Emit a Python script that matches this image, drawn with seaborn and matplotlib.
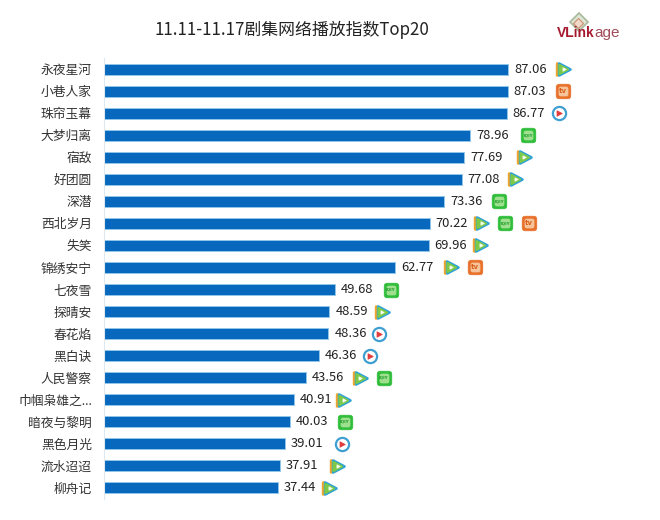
import matplotlib
matplotlib.use("Agg")
import matplotlib.pyplot as plt
import matplotlib.transforms as mtrans
from matplotlib.markers import MarkerStyle
from matplotlib.patches import BoxStyle
from matplotlib.path import Path
import seaborn as sns
import pandas as pd

# chart data
shows = ['永夜星河', '小巷人家', '珠帘玉幕', '大梦归离', '宿敌', '好团圆', '深潜', '西北岁月', '失笑', '锦绣安宁',
         '七夜雪', '探晴安', '春花焰', '黑白诀', '人民警察', '巾帼枭雄之...', '暗夜与黎明', '黑色月光', '流水迢迢', '柳舟记']
index_values = [87.06, 87.03, 86.77, 78.96, 77.69, 77.08, 73.36, 70.22, 69.96, 62.77,
                49.68, 48.59, 48.36, 46.36, 43.56, 40.91, 40.03, 39.01, 37.91, 37.44]
platforms = [['tencent'], ['mango'], ['youku'], ['iqiyi'], ['tencent'], ['tencent'], ['iqiyi'],
             ['tencent', 'iqiyi', 'mango'], ['tencent'], ['tencent', 'mango'],
             ['iqiyi'], ['tencent'], ['youku'], ['youku'], ['tencent', 'iqiyi'],
             ['tencent'], ['iqiyi'], ['youku'], ['tencent'], ['tencent']]
title = '11.11-11.17剧集网络播放指数Top20'

sns.set_theme(style="white")
plt.rcParams['font.family'] = ['Noto Sans CJK SC', 'DejaVu Sans']

df = pd.DataFrame({'show': shows, 'value': index_values})

fig = plt.figure(figsize=(6.6, 5.2), dpi=100)
ax = fig.add_axes([104 / 660, 1 - 499 / 520, 496 / 660, 441 / 520])
ax.patch.set_alpha(0)

sns.barplot(data=df, x='value', y='show', orient='h', color='#0868bd', saturation=1,
            width=0.5, edgecolor='#8fc6ea', linewidth=0.7, ax=ax)
ax.set_xlim(0, 496 / 4.64)
ax.set_ylim(19.5, -0.5)
ax.set_xlabel('')
ax.set_ylabel('')
ax.set_xticks([])
ax.tick_params(axis='y', length=0, pad=8.7, labelsize=9.2, labelcolor='#333333')

for side in ['top', 'right', 'bottom']:
    ax.spines[side].set_visible(False)
ax.spines['left'].set_color('#dfe8ee')
ax.spines['left'].set_linewidth(0.8)

ax.bar_label(ax.containers[0], fmt='%.2f', padding=4.3, fontsize=9.3, color='#222222')

fig.text(291.5 / 660, 1 - 30 / 520, title, ha='center', va='center', fontsize=12.15, color='#222222')

# logo
fig.text(557 / 660, 1 - 33 / 520, 'VLink', ha='left', va='center', fontsize=10, fontweight='bold',
         color='#a5192e', family=['Liberation Sans'])
fig.text(594 / 660, 1 - 33.5 / 520, 'age', ha='left', va='center', fontsize=11, color='#a04a5a',
         family=['Liberation Sans'])
logo = fig.add_axes([0, 0, 1, 1], label='logo')
logo.set_xlim(0, 660)
logo.set_ylim(520, 0)
logo.axis('off')
logo.patch.set_alpha(0)
logo.plot([579], [22], marker='D', ms=9, mfc='#dfe6d6', mec='#a8b89a', mew=1.2)
logo.plot([578], [23], marker='D', ms=5, mfc='#f1d9c8', mec='#c98f73', mew=0.8)

# rounded square used for the mango and iqiyi badges
rounded = BoxStyle("Round", pad=0, rounding_size=0.22)(-0.5, -0.5, 1, 1, 1)
# fat play triangle with round corners for the tencent icon
play = MarkerStyle(Path([(-0.45, -0.5), (0.5, 0), (-0.45, 0.5), (-0.45, -0.5)], closed=True), joinstyle='round')

# pixel gap from the bar end to the first icon, row by row
first_gap = [56, 55, 52, 58, 60, 54, 55, 52, 52, 56, 56, 53, 51, 51, 54, 50, 55, 57, 58, 52]
icon_step = 23.5


def place(value, row, dx, **kw):
    tr = mtrans.offset_copy(ax.transData, fig=fig, x=dx, y=0, units='dots')
    ax.plot([value], [row], transform=tr, clip_on=False, linestyle='none', **kw)


def place_text(value, row, dx, s, size, color, weight='bold'):
    ax.annotate(s, xy=(value, row), xytext=(dx, 0), textcoords='offset pixels', ha='center',
                va='center', fontsize=size, color=color, fontweight=weight,
                family=['DejaVu Sans'], annotation_clip=False)


def draw_icon(name, value, row, dx):
    if name == 'tencent':
        place(value, row, dx - 1.5, marker=play, ms=8.5, mfc='#f0a52c', mec='#f0a52c', mew=2)
        place(value, row, dx + 0.5, marker=play, ms=8.5, mfc='#2fa3d6', mec='#2fa3d6', mew=2)
        place(value, row, dx - 0.5, marker=play, ms=6.5, mfc='#7cc94a', mec='#7cc94a', mew=1.5)
        place(value, row, dx, marker=play, ms=2.5, mfc='#fbfdf0', mec='#fbfdf0', mew=0.5)
    elif name == 'mango':
        place(value, row, dx, marker=rounded, ms=10.5, mfc='#e8702a', mec='#e8702a', mew=0.5)
        place(value, row, dx, marker=rounded, ms=7, mfc='#f6c49a', mec='#f6c49a', mew=0)
        place_text(value, row, dx, 'tv', 5, '#d9601c')
    elif name == 'iqiyi':
        place(value, row, dx, marker=rounded, ms=10.5, mfc='#2fbd3a', mec='#2fbd3a', mew=0.5)
        place(value, row, dx, marker=rounded, ms=7, mfc='#9fe08f', mec='#9fe08f', mew=0)
        place_text(value, row, dx, 'IQIY', 3, '#1f9a2a')
    else:
        place(value, row, dx, marker='o', ms=9.5, mfc='white', mec='#3f9fd0', mew=1.6)
        place(value, row, dx, marker=play, ms=4, mfc='#e23b3b', mec='#e23b3b', mew=0.5)


for row, (value, names) in enumerate(zip(index_values, platforms)):
    for k, name in enumerate(names):
        draw_icon(name, value, row, first_gap[row] + k * icon_step)

fig.savefig('out.png', dpi=100, facecolor='white')
plt.close(fig)
